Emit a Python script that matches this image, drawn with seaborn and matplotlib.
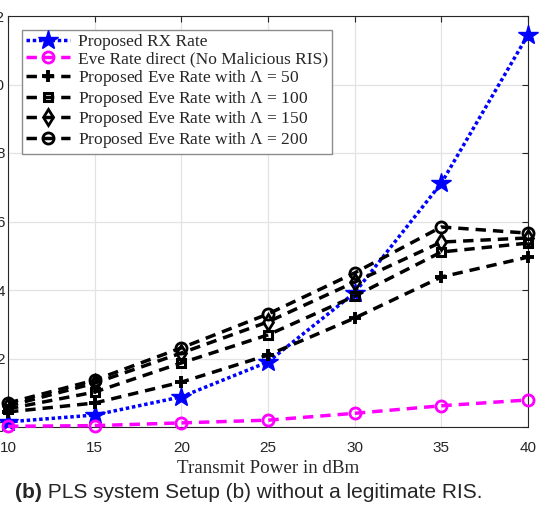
import matplotlib
matplotlib.use("Agg")
import matplotlib.pyplot as plt
import seaborn as sns
import pandas as pd

power = [10, 15, 20, 25, 30, 35, 40]
rx_rate = [0.15, 0.35, 0.88, 1.90, 3.92, 7.12, 11.45]
eve_direct = [0.02, 0.04, 0.12, 0.20, 0.40, 0.62, 0.79]
eve_50 = [0.44, 0.70, 1.31, 2.10, 3.18, 4.38, 4.96]
eve_100 = [0.53, 1.02, 1.87, 2.69, 3.82, 5.11, 5.37]
eve_150 = [0.61, 1.28, 2.16, 3.07, 4.23, 5.40, 5.52]
eve_200 = [0.70, 1.37, 2.31, 3.30, 4.50, 5.84, 5.66]

labels = [
    "Proposed RX Rate",
    "Eve Rate direct (No Malicious RIS)",
    "Proposed Eve Rate with $\\Lambda$ = 50",
    "Proposed Eve Rate with $\\Lambda$ = 100",
    "Proposed Eve Rate with $\\Lambda$ = 150",
    "Proposed Eve Rate with $\\Lambda$ = 200",
]
yticks = [0, 2, 4, 6, 8, 10, 12]
xticks = [10, 15, 20, 25, 30, 35, 40]

sns.set_style("white")
plt.rcParams["mathtext.fontset"] = "custom"
plt.rcParams["mathtext.rm"] = "Liberation Serif"
plt.rcParams["mathtext.it"] = "Liberation Serif"

fig = plt.figure(figsize=(5.48, 5.07), dpi=100)
ax = fig.add_axes([8 / 548, 1 - 427 / 507, 520 / 548, 411 / 507])

series = [rx_rate, eve_direct, eve_50, eve_100, eve_150, eve_200]
styles = [
    dict(color="#0000ff", marker="*", markersize=15, dashes=(1, 0.8), mfc="#0000ff", mec="#0000ff", mew=1),
    dict(color="#ff00ff", marker="o", markersize=8, dashes=(3, 2), mfc="none", mec="#ff00ff", mew=2),
    dict(color="black", marker="+", markersize=8, dashes=(3, 2), mfc="black", mec="black", mew=2.8),
    dict(color="black", marker="s", markersize=6, dashes=(3, 2), mfc="none", mec="black", mew=2.2),
    dict(color="black", marker="d", markersize=8, dashes=(3, 2), mfc="none", mec="black", mew=2),
    dict(color="black", marker="o", markersize=8, dashes=(3, 2), mfc="none", mec="black", mew=2),
]

for vals, lab, st in zip(series, labels, styles):
    df = pd.DataFrame({"power": power, "rate": vals})
    sns.lineplot(data=df, x="power", y="rate", ax=ax, label=lab,
                 color=st["color"], linewidth=2.5, marker=st["marker"],
                 markersize=st["markersize"], markerfacecolor=st["mfc"],
                 markeredgecolor=st["mec"], markeredgewidth=st["mew"],
                 dashes=st["dashes"], clip_on=False, zorder=3)

ax.set_xlim(10, 40)
ax.set_ylim(0, 12)
ax.set_xticks(xticks)
ax.set_yticks(yticks)
ax.set_xticklabels([str(t) for t in xticks], fontfamily="Liberation Sans", fontsize=11, color="#262626")
ax.set_yticklabels([str(t) for t in yticks], fontfamily="Liberation Sans", fontsize=11, color="#262626")
ax.grid(True, color="#e3e3e3", linewidth=0.9)
ax.set_axisbelow(True)
ax.tick_params(direction="in", length=4, width=0.8, top=True, right=True, colors="#262626")
ax.tick_params(axis="x", pad=10)
ax.tick_params(axis="y", pad=2)
for sp in ax.spines.values():
    sp.set_color("#262626")
    sp.set_linewidth(0.8)
    sp.set_visible(True)

ax.set_xlabel("Transmit Power in dBm", fontfamily="Liberation Serif", fontsize=13.7, color="#262626", labelpad=4)
ax.set_ylabel("")

leg = ax.legend(loc="upper left", bbox_to_anchor=(0.027, 0.966), borderaxespad=0,
                prop={"family": "Liberation Serif", "size": 12.5}, handlelength=2.5,
                handletextpad=0.45, labelspacing=0.04, borderpad=0.25,
                fancybox=False, framealpha=1, edgecolor="#8c8c8c")
leg.get_frame().set_linewidth(1.0)

t1 = fig.text(15 / 548, 1 - 493 / 507, "(b)", fontfamily="Liberation Sans", fontweight="bold",
              fontsize=15, va="center", ha="left")
ax.annotate(" PLS system Setup (b) without a legitimate RIS.", xy=(1, 0), xycoords=t1,
            va="bottom", ha="left", fontfamily="Liberation Sans", fontsize=15,
            annotation_clip=False)

fig.savefig("out.png", dpi=100)
